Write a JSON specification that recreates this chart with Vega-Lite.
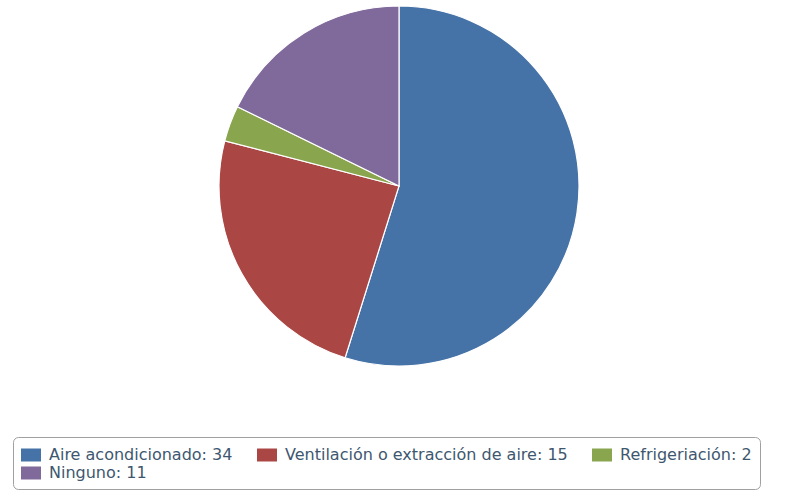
{
  "$schema": "https://vega.github.io/schema/vega-lite/v6.json",
  "width": 798,
  "height": 372,
  "padding": {"left": 0, "top": 0, "right": 0, "bottom": 119},
  "autosize": {"type": "none"},
  "background": "white",
  "data": {
    "values": [
      {"categoria": "Aire acondicionado: 34", "valor": 34, "orden": 1},
      {"categoria": "Ventilación o extracción de aire: 15", "valor": 15, "orden": 2},
      {"categoria": "Refrigeriación: 2", "valor": 2, "orden": 3},
      {"categoria": "Ninguno: 11", "valor": 11, "orden": 4}
    ]
  },
  "mark": {"type": "arc", "outerRadius": 180, "stroke": "white", "strokeWidth": 1.2},
  "encoding": {
    "theta": {"field": "valor", "type": "quantitative", "stack": true},
    "order": {"field": "orden", "type": "quantitative"},
    "color": {
      "field": "categoria",
      "type": "nominal",
      "sort": null,
      "scale": {
        "domain": ["Aire acondicionado: 34", "Ventilación o extracción de aire: 15", "Refrigeriación: 2", "Ninguno: 11"],
        "range": ["#4572A7", "#AA4643", "#89A54E", "#80699B"]
      },
      "legend": {
        "title": null,
        "orient": "none",
        "legendX": 13,
        "legendY": 437,
        "direction": "horizontal",
        "columns": 3,
        "gridAlign": "none",
        "padding": 8,
        "strokeColor": "#a0a0a0",
        "cornerRadius": 5,
        "fillColor": "white",
        "symbolType": "M-1,-0.65H1V0.65H-1Z",
        "symbolSize": 400,
        "symbolStrokeWidth": 0,
        "symbolOpacity": 1,
        "labelFont": "DejaVu Sans",
        "labelFontSize": 16,
        "labelColor": "#3E576F",
        "labelLimit": 500,
        "labelOffset": 8,
        "columnPadding": 24,
        "rowPadding": 0
      }
    }
  }
}
